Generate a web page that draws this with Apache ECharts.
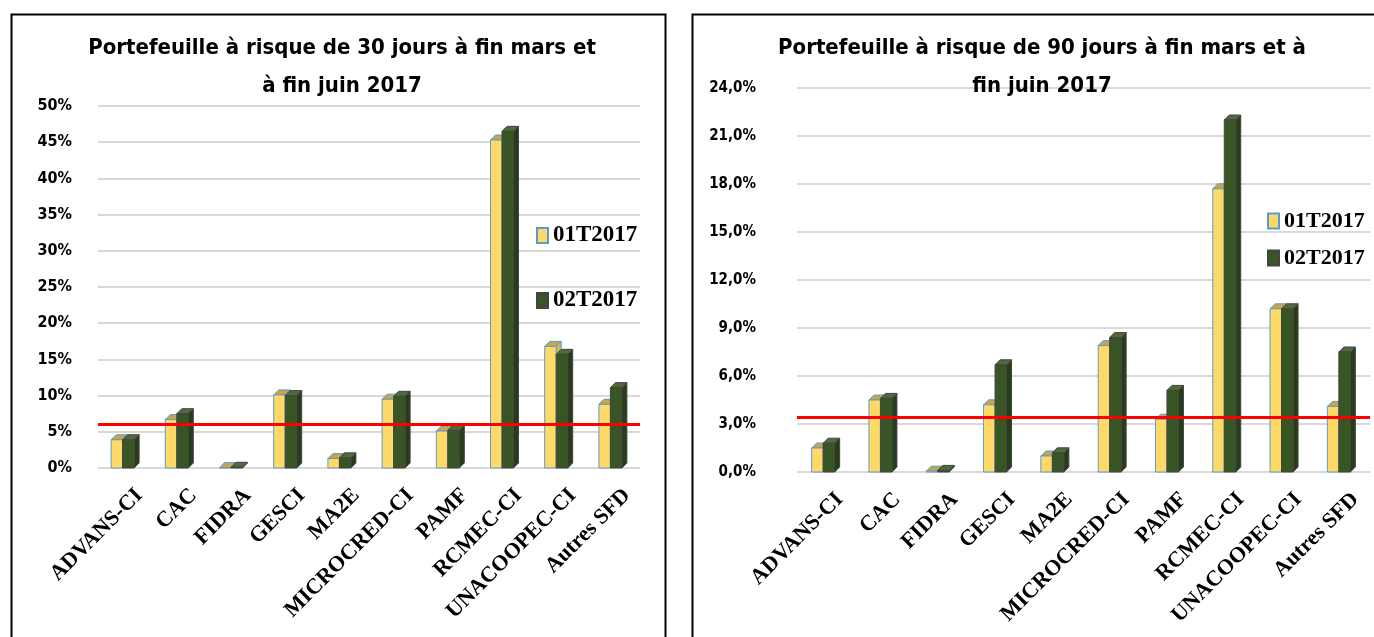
<!DOCTYPE html>
<html>
<head>
<meta charset="utf-8">
<script src="https://cdn.jsdelivr.net/npm/echarts@6/dist/echarts.min.js"></script>
<style>
  html, body { margin: 0; padding: 0; background: #fff; }
  #chart { width: 1374px; height: 637px; }
</style>
</head>
<body>
<div id="chart"></div>
<script>
const categories = ['ADVANS-CI', 'CAC', 'FIDRA', 'GESCI', 'MA2E', 'MICROCRED-CI', 'PAMF', 'RCMEC-CI', 'UNACOOPEC-CI', 'Autres SFD'];
const seriesNames = ['01T2017', '02T2017'];

// PAR 30 jours (%)
const par30T1 = [3.9, 6.7, 0.05, 10.1, 1.3, 9.5, 5.1, 45.3, 16.8, 8.8];
const par30T2 = [3.9, 7.5, 0.1, 10.0, 1.4, 9.9, 5.2, 46.5, 15.7, 11.1];
// PAR 90 jours (%)
const par90T1 = [1.5, 4.5, 0.05, 4.2, 1.0, 7.9, 3.3, 17.7, 10.2, 4.1];
const par90T2 = [1.8, 4.6, 0.1, 6.7, 1.2, 8.4, 5.1, 22.0, 10.2, 7.5];

// red reference lines
const seuil30 = 6.0;
const seuil90 = 3.4;

const chart = echarts.init(document.getElementById('chart'));

const faces = [
    { front: '#FFD966', top: '#C9A54A', side: '#D9B650', stroke: '#5B9BD5' },
    { front: '#375623', top: '#4F6B3A', side: '#263D18', stroke: '#444444' }
];

// pseudo 3D column: front face on the value, top and side go back by d
const makeRender = (k) => function (params, api) {
    const c = api.coord([api.value(0), api.value(1)]);
    const b = api.coord([api.value(0), 0]);
    const w = 11.5, d = 5;
    const f = faces[k];
    const x0 = c[0] - w + k * w - d / 2;
    const yt = c[1], yb = b[1];
    const st = { stroke: f.stroke, lineWidth: 1 };
    return {
        type: 'group',
        children: [
            { type: 'polygon', shape: { points: [[x0 + w, yt], [x0 + w + d, yt - d], [x0 + w + d, yb - d], [x0 + w, yb]] }, style: Object.assign({ fill: f.side }, st) },
            { type: 'polygon', shape: { points: [[x0, yt], [x0 + d, yt - d], [x0 + w + d, yt - d], [x0 + w, yt]] }, style: Object.assign({ fill: f.top }, st) },
            { type: 'rect', shape: { x: x0, y: yt, width: w, height: yb - yt }, style: Object.assign({ fill: f.front }, st) }
        ]
    };
};

const bars = (name, k, values, axis) => ({
    type: 'custom',
    name: name,
    xAxisIndex: axis,
    yAxisIndex: axis,
    renderItem: makeRender(k),
    encode: { x: 0, y: 1 },
    itemStyle: { color: faces[k].front, borderColor: faces[k].stroke, borderWidth: 1 },
    data: values.map((v, i) => [i, v])
});

const redLine = (axis, value) => ({
    type: 'line',
    xAxisIndex: axis,
    yAxisIndex: axis,
    data: [],
    silent: true,
    markLine: {
        symbol: ['none', 'none'],
        label: { show: false },
        lineStyle: { color: '#FF0000', width: 3, type: 'solid' },
        data: [{ yAxis: value }]
    }
});

const titleFont = 'Liberation Sans Narrow, DejaVu Sans Condensed, sans-serif';
const serif = 'Liberation Serif, Times New Roman, serif';

const xAxisBase = (gridIndex) => ({
    type: 'category',
    gridIndex: gridIndex,
    data: categories,
    axisLine: { show: false },
    axisTick: { show: false },
    axisLabel: {
        interval: 0,
        rotate: 45,
        margin: 10,
        verticalAlign: 'top',
        lineHeight: 40,
        color: '#000',
        fontFamily: serif,
        fontWeight: 'bold',
        fontSize: 22
    }
});

const yAxisBase = (gridIndex, max, interval, fmt, margin, size) => ({
    type: 'value',
    gridIndex: gridIndex,
    min: 0,
    max: max,
    interval: interval,
    axisLine: { show: false },
    axisTick: { show: false },
    splitLine: { lineStyle: { color: '#D9D9D9', width: 2 } },
    axisLabel: {
        margin: margin,
        color: '#000',
        fontFamily: titleFont,
        fontWeight: 'bold',
        fontSize: size,
        formatter: fmt
    }
});

chart.setOption({
    animation: false,
    title: [
        {
            text: 'Portefeuille à risque de 30 jours à fin mars et\nà fin juin 2017',
            left: 337, top: 24, textAlign: 'center',
            textStyle: { fontFamily: titleFont, fontWeight: 'bold', fontSize: 22, lineHeight: 38, color: '#000' }
        },
        {
            text: 'Portefeuille à risque de 90 jours à fin mars et à\nfin juin 2017',
            left: 1037, top: 24, textAlign: 'center',
            textStyle: { fontFamily: titleFont, fontWeight: 'bold', fontSize: 22, lineHeight: 38, color: '#000' }
        }
    ],
    legend: [
        {
            data: seriesNames,
            orient: 'vertical',
            left: 531, top: 219,
            itemGap: 42,
            itemWidth: 11, itemHeight: 15,
            icon: 'rect',
            textStyle: { fontFamily: serif, fontWeight: 'bold', fontSize: 23, color: '#000' }
        },
        {
            data: seriesNames,
            orient: 'vertical',
            left: 1262, top: 205,
            itemGap: 15,
            itemWidth: 11, itemHeight: 15,
            icon: 'rect',
            textStyle: { fontFamily: serif, fontWeight: 'bold', fontSize: 22, color: '#000' }
        }
    ],
    grid: [
        { left: 98, top: 106, width: 542, height: 362 },
        { left: 797, top: 88, width: 573, height: 384 }
    ],
    xAxis: [xAxisBase(0), xAxisBase(1)],
    yAxis: [
        yAxisBase(0, 50, 5, (v) => v + '%', 26, 16),
        yAxisBase(1, 24, 3, (v) => v.toFixed(1).replace('.', ',') + '%', 41, 15)
    ],
    graphic: [
        { type: 'rect', left: 9, top: 12, shape: { width: 654, height: 640 }, style: { fill: 'none', stroke: '#000', lineWidth: 2 }, z: 10 },
        { type: 'rect', left: 690, top: 12, shape: { width: 720, height: 640 }, style: { fill: 'none', stroke: '#000', lineWidth: 2 }, z: 10 }
    ],
    series: [
        bars(seriesNames[0], 0, par30T1, 0),
        bars(seriesNames[1], 1, par30T2, 0),
        bars(seriesNames[0], 0, par90T1, 1),
        bars(seriesNames[1], 1, par90T2, 1),
        redLine(0, seuil30),
        redLine(1, seuil90)
    ]
});
</script>
</body>
</html>
